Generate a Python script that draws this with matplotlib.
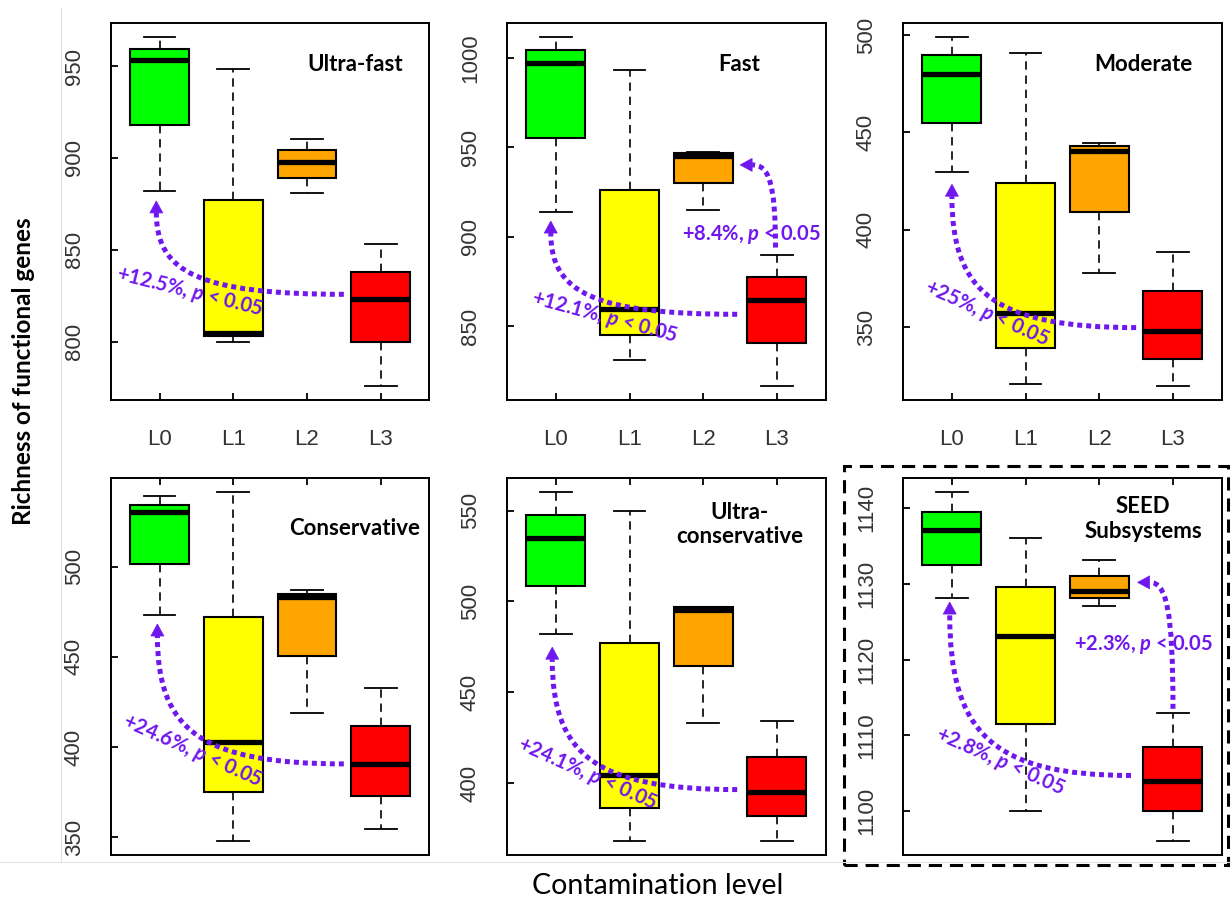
import numpy as np
import matplotlib.pyplot as plt
from matplotlib.path import Path
from matplotlib.patches import PathPatch, Polygon, Rectangle
from matplotlib.lines import Line2D
from matplotlib.ticker import MultipleLocator

plt.rcParams['mathtext.fontset'] = 'custom'
plt.rcParams['mathtext.bfit'] = 'Lato:bold:italic'
plt.rcParams['mathtext.rm'] = 'Lato:bold'

levels = ['L0', 'L1', 'L2', 'L3']
box_colors = ['#00ff00', '#ffff00', '#ffa500', '#ff0000']
purple = '#6f17ee'

# box statistics: whisker low, q1, median, q3, whisker high
ultrafast_lo = [882.0, 800.0, 881.1, 775.9]
ultrafast_q1 = [917.7, 803.1, 889.0, 799.8]
ultrafast_med = [953.1, 805.0, 898.0, 823.0]
ultrafast_q3 = [959.4, 876.9, 904.1, 837.9]
ultrafast_hi = [965.8, 948.2, 910.1, 853.0]

fast_lo = [914.1, 830.9, 915.0, 816.6]
fast_q1 = [955.3, 845.1, 929.8, 840.6]
fast_med = [997.0, 859.8, 944.9, 864.7]
fast_q3 = [1004.5, 926.2, 946.7, 877.4]
fast_hi = [1011.7, 993.1, 947.6, 890.0]

moderate_lo = [429.9, 321.0, 378.0, 319.8]
moderate_q1 = [455.0, 339.2, 409.1, 333.9]
moderate_med = [480.0, 357.1, 440.5, 347.9]
moderate_q3 = [489.7, 424.2, 442.9, 368.4]
moderate_hi = [499.0, 491.0, 444.8, 388.8]

conservative_lo = [473.2, 347.8, 418.9, 354.6]
conservative_q1 = [501.5, 375.3, 450.7, 373.1]
conservative_med = [530.1, 402.7, 483.0, 390.7]
conservative_q3 = [534.4, 472.3, 484.9, 411.5]
conservative_hi = [539.0, 541.2, 487.3, 432.8]

ultracons_lo = [481.8, 367.9, 433.0, 367.9]
ultracons_q1 = [508.6, 386.3, 464.7, 381.7]
ultracons_med = [535.0, 404.2, 495.5, 395.1]
ultracons_q3 = [547.6, 477.2, 496.8, 414.3]
ultracons_hi = [560.1, 549.6, 496.8, 434.3]

seed_lo = [1128.2, 1100.0, 1127.1, 1096.0]
seed_q1 = [1132.5, 1111.5, 1128.1, 1100.0]
seed_med = [1137.1, 1123.1, 1129.0, 1104.0]
seed_q3 = [1139.5, 1129.6, 1131.0, 1108.5]
seed_hi = [1142.1, 1136.1, 1133.1, 1113.0]

# arrows: (x from, y from, x to, y to, shape) and labels (x, y, change, angle)
ultrafast_arrows = [(3.50, 825.8, 0.955, 876.6, 'hv')]
ultrafast_labels = [(1.41, 827.1, '+12.5%', -14)]
fast_arrows = [(3.46, 856.7, 0.93, 908.8, 'hv'), (3.98, 894.0, 3.50, 940.2, 'vh')]
fast_labels = [(1.66, 854.8, '+12.1%', -15), (3.66, 901.4, '+8.4%', 0)]
moderate_arrows = [(3.50, 349.8, 1.00, 423.4, 'hv')]
moderate_labels = [(1.47, 357.0, '+25%', -24)]
conservative_arrows = [(3.50, 390.7, 0.97, 468.2, 'hv')]
conservative_labels = [(1.45, 397.6, '+24.6%', -24)]
ultracons_arrows = [(3.46, 396.4, 0.95, 474.8, 'hv')]
ultracons_labels = [(1.43, 404.7, '+24.1%', -24)]
seed_arrows = [(3.43, 1104.7, 0.97, 1127.6, 'hv'), (4.00, 1113.5, 3.52, 1130.2, 'vh')]
seed_labels = [(1.65, 1106.5, '+2.8%', -24), (3.60, 1122.0, '+2.3%', 0)]

panels = [
    ('Ultra-fast', (ultrafast_lo, ultrafast_q1, ultrafast_med, ultrafast_q3, ultrafast_hi),
     50, ultrafast_arrows, ultrafast_labels),
    ('Fast', (fast_lo, fast_q1, fast_med, fast_q3, fast_hi), 50, fast_arrows, fast_labels),
    ('Moderate', (moderate_lo, moderate_q1, moderate_med, moderate_q3, moderate_hi),
     50, moderate_arrows, moderate_labels),
    ('Conservative', (conservative_lo, conservative_q1, conservative_med, conservative_q3,
                      conservative_hi), 50, conservative_arrows, conservative_labels),
    ('Ultra-\nconservative', (ultracons_lo, ultracons_q1, ultracons_med, ultracons_q3,
                              ultracons_hi), 50, ultracons_arrows, ultracons_labels),
    ('SEED\nSubsystems', (seed_lo, seed_q1, seed_med, seed_q3, seed_hi), 10,
     seed_arrows, seed_labels),
]

# layout (figure pixels are 1231 x 902)
W, H = 1231, 902
col_left = [111, 507.3, 903.3]
ax_w = 318.3
row_top = [23, 478.3]
ax_h = 377
title_pos = [(0.766, 0.891), (0.728, 0.891), (0.753, 0.891),
             (0.765, 0.867), (0.730, 0.878), (0.754, 0.892)]


def curved_arrow(ax, x0, y0, x1, y1, kind, head_len=12, head_w=6.5):
    """dotted bezier from (x0,y0) to an arrow head at (x1,y1), built in pixels"""
    p0 = ax.transData.transform((x0, y0))
    tip = ax.transData.transform((x1, y1))
    if kind == 'hv':
        d = np.array([0.0, 1.0])
        base = tip - d * head_len
        c1 = (p0[0] + 0.77 * (base[0] - p0[0]), p0[1])
        c2 = (base[0], base[1] + 0.73 * (p0[1] - base[1]))
    else:
        d = np.array([-1.0, 0.0])
        base = tip - d * head_len
        c1 = (p0[0], p0[1] + 0.8 * (base[1] - p0[1]))
        c2 = (base[0] + 0.7 * (p0[0] - base[0]), base[1])
    inv = ax.transData.inverted()
    verts = inv.transform(np.array([p0, c1, c2, base]))
    path = Path(verts, [Path.MOVETO, Path.CURVE4, Path.CURVE4, Path.CURVE4])
    ax.add_patch(PathPatch(path, fill=False, edgecolor=purple, lw=3.6,
                           linestyle=(0, (1, 0.8)), capstyle='butt', zorder=5))
    n = np.array([-d[1], d[0]])
    tri = inv.transform(np.array([tip, base + n * head_w, base - n * head_w]))
    ax.add_patch(Polygon(tri, closed=True, facecolor=purple, edgecolor=purple,
                         lw=0.5, zorder=6))


fig = plt.figure(figsize=(W / 100, H / 100), dpi=100)

for i, (title, st, step, arrows, labels) in enumerate(panels):
    r, c = divmod(i, 3)
    ax = fig.add_axes([col_left[c] / W, 1 - (row_top[r] + ax_h) / H, ax_w / W, ax_h / H])
    lo, q1, med, q3, hi = st
    stats = [dict(whislo=lo[k], q1=q1[k], med=med[k], q3=q3[k], whishi=hi[k], fliers=[])
             for k in range(4)]
    bp = ax.bxp(stats, positions=[1, 2, 3, 4], widths=0.8, patch_artist=True,
                showfliers=False, capwidths=0.43,
                boxprops=dict(edgecolor='black', lw=1.5),
                medianprops=dict(color='black', lw=3.8, solid_capstyle='butt'),
                whiskerprops=dict(color='black', lw=1.2, linestyle=(0, (5, 3.5))),
                capprops=dict(color='black', lw=1.3))
    for patch, col in zip(bp['boxes'], box_colors):
        patch.set_facecolor(col)

    ymin, ymax = min(lo), max(hi)
    rng = ymax - ymin
    ax.set_ylim(ymin - 0.04 * rng, ymax + 0.04 * rng)
    ax.set_xlim(0.34, 4.66)
    ax.yaxis.set_major_locator(MultipleLocator(step))
    ax.set_xticks([1, 2, 3, 4])

    for s in ax.spines.values():
        s.set_linewidth(1.4)
    ax.tick_params(axis='y', direction='in', length=5, width=1.3, pad=19,
                   labelsize=16, labelcolor='#333333')
    for t in ax.get_yticklabels():
        t.set_rotation(90)
        t.set_va('center')
        t.set_family('Liberation Sans')
    if r == 0:
        ax.set_xticklabels(levels)
        ax.tick_params(axis='x', direction='in', length=5, width=1.3, pad=21,
                       labelsize=16, labelcolor='#333333')
        for t in ax.get_xticklabels():
            t.set_family('Liberation Sans')
    else:
        ax.tick_params(axis='x', direction='in', length=5, width=1.3,
                       bottom=False, top=True, labelbottom=False)

    tx, ty = title_pos[i]
    ax.text(tx, ty, title, transform=ax.transAxes, ha='center', va='center',
            fontsize=16, fontweight='bold', family='Lato', linespacing=1.2)

    for a in arrows:
        curved_arrow(ax, *a)
    for (lx, ly, change, ang) in labels:
        ax.text(lx, ly, change + r', $\mathbfit{p}$ < 0.05', ha='center', va='center',
                rotation=ang, rotation_mode='anchor', fontsize=14.5, fontweight='bold',
                family='Lato', color=purple, zorder=7)

fig.text(24 / W, 1 - 371 / H, 'Richness of functional genes', rotation=90,
         ha='center', va='center', fontsize=17.5, fontweight='bold', family='Lato')
fig.text(658 / W, 1 - 886 / H, 'Contamination level', ha='center', va='center',
         fontsize=20.5, family='Lato')

# faint borders of the composed figure
fig.add_artist(Line2D([61 / W, 61 / W], [1 - 862 / H, 1 - 8 / H], color='#e2e2e2', lw=0.8))
fig.add_artist(Line2D([0, 1], [1 - 862 / H, 1 - 862 / H], color='#e2e2e2', lw=0.8))

# dashed frame around the SEED panel
fig.add_artist(Rectangle((844 / W, 1 - 865 / H), (1228 - 844) / W, (865 - 466) / H,
                         fill=False, edgecolor='black', lw=2.2,
                         linestyle=(0, (4.3, 2.6)), transform=fig.transFigure))

fig.savefig('out.png', dpi=100)
